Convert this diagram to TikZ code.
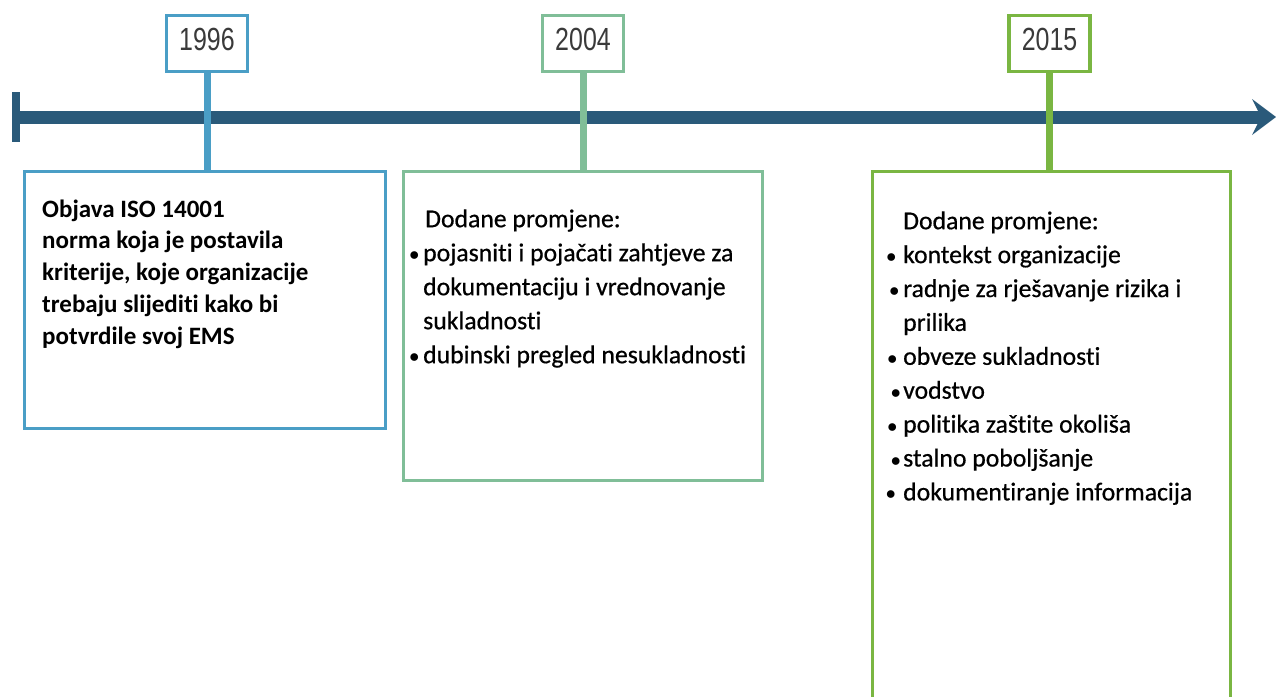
\documentclass[tikz,border=0pt]{standalone}
\usepackage{fontspec}
\setmainfont{Carlito}[Ligatures=NoCommon]
\newfontfamily\heavyreg{Carlito}[Ligatures=NoCommon, FakeBold=0.6]
\newfontfamily\yearfont{Liberation Sans}
\definecolor{axiscol}{RGB}{42,90,122}
\definecolor{cone}{RGB}{74,158,198}
\definecolor{ctwo}{RGB}{128,190,152}
\definecolor{cthree}{RGB}{122,182,66}
\definecolor{yeartxt}{RGB}{58,58,58}
\newcommand\bul[1]{\llap{\raisebox{0.5pt}{\scalebox{0.8}{$\bullet$}}\hspace{#1}}}
\newcommand\yr[1]{{\yearfont\fontsize{32}{32}\selectfont\scalebox{0.78}[1]{#1}}}
\tikzset{
  yearbox/.style={draw, fill=white, line width=3.5pt, minimum width=81pt, minimum height=56pt,
    inner sep=0pt, text=yeartxt, text height=23pt, text depth=10pt},
  eventbox/.style={draw, line width=3.5pt, inner sep=0pt},
  link/.style={line width=7pt},
  evtext/.style={anchor=north west, inner sep=0pt, align=left, text=black},
}
\begin{document}
\begin{tikzpicture}[x=1pt,y=-1pt]
\useasboundingbox (0,0) rectangle (1276,696);
\fill[white] (0,0) rectangle (1276,696);
% timeline
\coordinate (tstart) at (16,117);
\coordinate (tend) at (1262,117);
\draw[axiscol, line width=13pt] (tstart) -- (tend);
\draw[axiscol, line width=8pt] (16,92) -- (16,142);
\fill[axiscol] (1252,99) -- (1276,117) -- (1252,135) -- (1261,117) -- cycle;
% event boxes
\node[eventbox, draw=cone, minimum width=361pt, minimum height=257pt] (b1) at (205,300) {};
\node[eventbox, draw=ctwo, minimum width=359pt, minimum height=309pt] (b2) at (583,326) {};
\node[eventbox, draw=cthree, minimum width=358pt, minimum height=560pt] (b3) at (1051.5,451.5) {};
% year boxes
\node[yearbox, draw=cone] (y1) at (207,43.5) {\yr{1996}};
\node[yearbox, draw=ctwo] (y2) at (583,43.5) {\yr{2004}};
\node[yearbox, draw=cthree] (y3) at (1049.5,43.5) {\yr{2015}};
% links
\draw[link, cone] (y1.south) -- (y1.south |- b1.north);
\draw[link, ctwo] (y2.south) -- (y2.south |- b2.north);
\draw[link, cthree] (y3.south) -- (y3.south |- b3.north);
% texts
\node[evtext, font=\bfseries\fontsize{25}{31.7}\selectfont] (t1) at (42,197)
 {\rule{0pt}{20pt}Objava ISO 14001\\
  norma koja je postavila\\
  kriterije, koje organizacije\\
  trebaju slijediti kako bi\\
  potvrdile svoj EMS};
\node[evtext, font=\heavyreg\fontsize{25.7}{34}\selectfont] (t2) at (423,206)
 {\rule{0pt}{21pt}\hspace*{2pt}Dodane promjene:\\
  \bul{4pt}pojasniti i pojačati zahtjeve za\\
  dokumentaciju i vrednovanje\\
  sukladnosti\\
  \bul{4pt}dubinski pregled nesukladnosti};
\node[evtext, font=\heavyreg\fontsize{25.7}{33.9}\selectfont] (t3) at (903,208)
 {\rule{0pt}{21pt}Dodane promjene:\\
  \bul{7pt}kontekst organizacije\\
  \bul{4pt}radnje za rješavanje rizika i\\
  prilika\\
  \bul{6pt}obveze sukladnosti\\
  \bul{2.5pt}vodstvo\\
  \bul{6pt}politika zaštite okoliša\\
  \bul{2.5pt}stalno poboljšanje\\
  \bul{7.5pt}dokumentiranje informacija};
\end{tikzpicture}
\end{document}
